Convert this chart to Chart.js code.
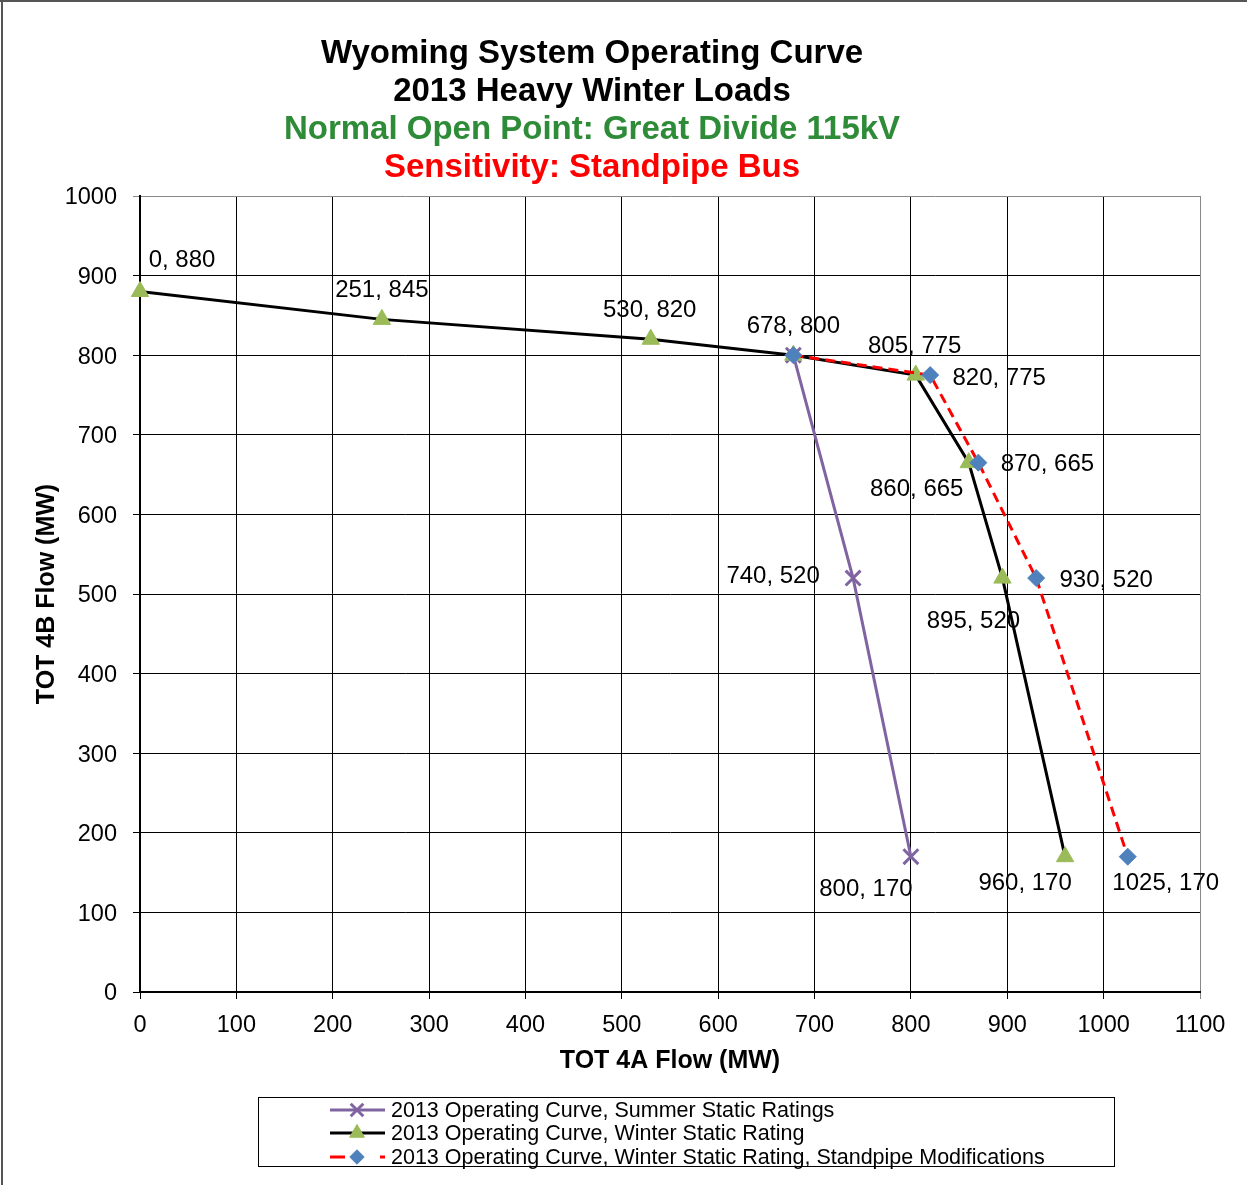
<!DOCTYPE html>
<html>
<head>
<meta charset="utf-8">
<title>Wyoming System Operating Curve</title>
<script src="https://cdn.jsdelivr.net/npm/chart.js@4.4.1/dist/chart.umd.min.js"></script>
<style>
  html, body { margin: 0; padding: 0; background: #fff; }
  #wrap { width: 1247px; height: 1185px; position: relative; }
</style>
</head>
<body>
<div id="wrap"><canvas id="curveChart" width="1247" height="1185"></canvas></div>
<script>
/* ---------- data ---------- */
const summerX = [678, 740, 800];
const summerY = [800, 520, 170];
const winterX = [0, 251, 530, 678, 805, 860, 895, 960];
const winterY = [880, 845, 820, 800, 775, 665, 520, 170];
const standpipeX = [678, 820, 870, 930, 1025];
const standpipeY = [800, 775, 665, 520, 170];

const seriesNames = [
  '2013 Operating Curve, Summer Static Ratings',
  '2013 Operating Curve, Winter Static Rating',
  '2013 Operating Curve, Winter Static Rating, Standpipe Modifications'
];
const titleLines = [
  'Wyoming System Operating Curve',
  '2013 Heavy Winter Loads',
  'Normal Open Point: Great Divide 115kV',
  'Sensitivity: Standpipe Bus'
];
const xAxisTitle = 'TOT 4A Flow (MW)';
const yAxisTitle = 'TOT 4B Flow (MW)';
const xRange = [0, 1100];
const yRange = [0, 1000];
const tickStep = 100;

/* ---------- styling ---------- */
const FONT = "'Liberation Sans', Arial, sans-serif";
const PURPLE = '#8064A2';
const GREEN = '#9BBB59';
const BLUE = '#4F81BD';
const RED = '#FF0000';
const titleColors = ['#000', '#000', '#2E8B37', '#FF0000'];

// label offsets (px from the point), null = no label
const summerLabelPos = [null, [-80, -2], [-45, 33]];
const winterLabelPos = [[42, -31], [0, -29], [-1, -29], [0, -29], [-1, -29], [-52, 27], [-29, 43], [-40, 27]];
const standpipeLabelPos = [null, [69, 3], [69, 2], [70, 2], [38, 27]];

const toPoints = (xs, ys) => xs.map((x, i) => ({ x, y: ys[i] }));

const pageBits = {
  id: 'pageBits',
  beforeDraw(chart) {
    const ctx = chart.ctx;
    ctx.save();
    ctx.fillStyle = '#fff';
    ctx.fillRect(0, 0, chart.width, chart.height);
    ctx.fillStyle = '#555';
    ctx.fillRect(0, 0, chart.width, 2);
    ctx.fillRect(1, 0, 2, chart.height);
    ctx.restore();
  },
  afterDraw(chart) {
    const ctx = chart.ctx;
    ctx.save();
    // titles
    ctx.textAlign = 'center';
    ctx.textBaseline = 'middle';
    ctx.font = `bold 33px ${FONT}`;
    titleLines.forEach((t, i) => {
      ctx.fillStyle = titleColors[i];
      ctx.fillText(t, 592, 54 + i * 38);
    });

    // legend box
    ctx.strokeStyle = '#000';
    ctx.lineWidth = 1;
    ctx.strokeRect(258.5, 1097.5, 856, 69);
    const rows = [1110, 1133, 1157];
    chart.data.datasets.forEach((ds, i) => {
      const y = rows[i];
      ctx.save();
      ctx.strokeStyle = ds.borderColor;
      ctx.lineWidth = 3;
      ctx.setLineDash(ds.legendDash || []);
      ctx.beginPath();
      ctx.moveTo(330, y);
      ctx.lineTo(385, y);
      ctx.stroke();
      ctx.restore();

      ctx.save();
      ctx.fillStyle = ds.pointBackgroundColor;
      ctx.strokeStyle = ds.pointBorderColor;
      ctx.lineWidth = ds.pointBorderWidth;
      Chart.helpers.drawPoint(ctx, {
        pointStyle: ds.pointStyle,
        radius: ds.pointRadius * 0.85,
        rotation: 0,
        borderWidth: ds.pointBorderWidth
      }, 357, y);
      ctx.restore();

      ctx.font = `21.5px ${FONT}`;
      ctx.textAlign = 'left';
      ctx.textBaseline = 'middle';
      ctx.fillStyle = '#000';
      ctx.fillText(seriesNames[i], 391, y + 1);
    });
    ctx.restore();
  },
  afterDatasetsDraw(chart) {
    const ctx = chart.ctx;
    ctx.save();
    ctx.font = `24px ${FONT}`;
    ctx.fillStyle = '#000';
    ctx.textAlign = 'center';
    ctx.textBaseline = 'middle';
    chart.data.datasets.forEach((ds, di) => {
      const meta = chart.getDatasetMeta(di);
      meta.data.forEach((el, i) => {
        const off = ds.labelPos[i];
        if (!off) return;
        const p = ds.data[i];
        ctx.fillText(`${p.x}, ${p.y}`, el.x + off[0], el.y + off[1]);
      });
    });
    ctx.restore();
  }
};

const gridColor = c => (c.tick && c.tick.value === c.scale.max ? '#888' : '#000');
const plainTick = v => String(v);

new Chart(document.getElementById('curveChart'), {
  type: 'line',
  data: {
    datasets: [{
      label: seriesNames[0],
      data: toPoints(summerX, summerY),
      labelPos: summerLabelPos,
      borderColor: PURPLE,
      borderWidth: 3,
      pointStyle: 'crossRot',
      pointRadius: 10.5,
      pointBorderWidth: 3,
      pointBorderColor: PURPLE,
      pointBackgroundColor: PURPLE,
      clip: false,
      order: 3
    }, {
      label: seriesNames[1],
      data: toPoints(winterX, winterY),
      labelPos: winterLabelPos,
      borderColor: '#000',
      borderWidth: 3,
      pointStyle: 'triangle',
      pointRadius: 10,
      pointBorderWidth: 1,
      pointBorderColor: GREEN,
      pointBackgroundColor: GREEN,
      clip: false,
      order: 2
    }, {
      label: seriesNames[2],
      data: toPoints(standpipeX, standpipeY),
      labelPos: standpipeLabelPos,
      borderColor: RED,
      borderWidth: 3,
      borderDash: [10, 6],
      legendDash: [15, 35],
      pointStyle: 'rectRot',
      pointRadius: 8.5,
      pointBorderWidth: 1,
      pointBorderColor: BLUE,
      pointBackgroundColor: BLUE,
      clip: false,
      order: 1
    }]
  },
  options: {
    responsive: false,
    animation: false,
    layout: { padding: { top: 196, right: 47, left: 0, bottom: 0 } },
    elements: { line: { tension: 0, fill: false } },
    plugins: {
      legend: { display: false },
      tooltip: { enabled: false },
      title: { display: false }
    },
    scales: {
      x: {
        type: 'linear',
        min: xRange[0], max: xRange[1],
        afterFit: s => { s.height = 193; },
        ticks: { stepSize: tickStep, callback: plainTick, color: '#000', padding: 12, font: { family: FONT, size: 23.5 } },
        grid: { color: gridColor, lineWidth: 1, tickLength: 7 },
        border: { color: '#000', width: 2 },
        title: {
          display: true, text: xAxisTitle, color: '#000',
          font: { family: FONT, size: 25, weight: 'bold' },
          padding: { top: 0, bottom: 109 }
        }
      },
      y: {
        type: 'linear',
        min: yRange[0], max: yRange[1],
        afterFit: s => { s.width = 140; },
        ticks: { stepSize: tickStep, callback: plainTick, color: '#000', padding: 16, labelOffset: 2, font: { family: FONT, size: 23.5 } },
        grid: { color: gridColor, lineWidth: 1, tickLength: 7 },
        border: { color: '#000', width: 2 },
        title: {
          display: true, text: yAxisTitle, color: '#000',
          font: { family: FONT, size: 25, weight: 'bold' },
          padding: { top: 32, bottom: 0 }
        }
      }
    }
  },
  plugins: [pageBits]
});
</script>
</body>
</html>
